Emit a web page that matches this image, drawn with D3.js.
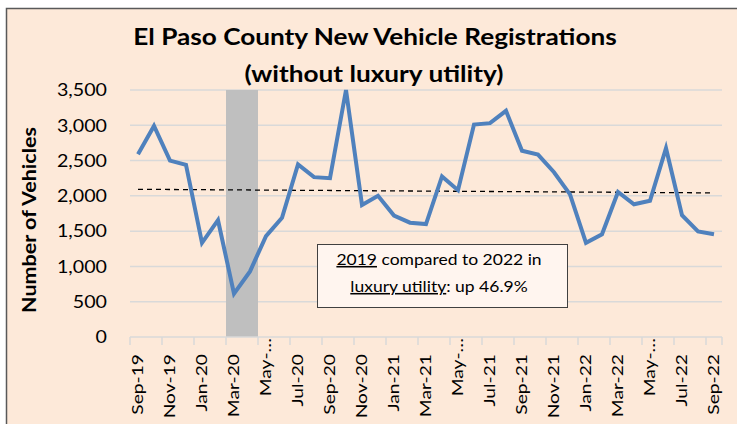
<!DOCTYPE html>
<html>
<head>
<meta charset="utf-8">
<script src="https://cdn.jsdelivr.net/npm/d3@7"></script>
<style>
  html, body { margin: 0; padding: 0; background: #ffffff; }
  svg { display: block; }
  text { font-family: Lato, "Liberation Sans", sans-serif; fill: #000; }
</style>
</head>
<body>
<svg id="chart" width="737" height="424"></svg>
<script>
// ---- data ----
const categories = [
  "Sep-19","Oct-19","Nov-19","Dec-19","Jan-20","Feb-20","Mar-20","Apr-20","May-20","Jun-20",
  "Jul-20","Aug-20","Sep-20","Oct-20","Nov-20","Dec-20","Jan-21","Feb-21","Mar-21","Apr-21",
  "May-21","Jun-21","Jul-21","Aug-21","Sep-21","Oct-21","Nov-21","Dec-21","Jan-22","Feb-22",
  "Mar-22","Apr-22","May-22","Jun-22","Jul-22","Aug-22","Sep-22"
];
const registrations = [
  2590, 2990, 2500, 2440, 1335, 1655, 615, 930, 1430, 1690,
  2445, 2265, 2250, 3500, 1870, 2000, 1720, 1620, 1600, 2275,
  2080, 3010, 3030, 3205, 2640, 2585, 2335, 2020, 1335, 1455,
  2055, 1880, 1930, 2675, 1725, 1495, 1455
];
const trendCategories = ["Sep-19", "Sep-22"];
const trendValues = [2093, 2042];
const shadeCategories = ["Mar-20", "Apr-20"];
const shadeTop = 3500;
const yTicks = [0, 500, 1000, 1500, 2000, 2500, 3000, 3500];
const xTickLabels = {
  "Sep-19":"Sep-19","Nov-19":"Nov-19","Jan-20":"Jan-20","Mar-20":"Mar-20","May-20":"May-…",
  "Jul-20":"Jul-20","Sep-20":"Sep-20","Nov-20":"Nov-20","Jan-21":"Jan-21","Mar-21":"Mar-21",
  "May-21":"May-…","Jul-21":"Jul-21","Sep-21":"Sep-21","Nov-21":"Nov-21","Jan-22":"Jan-22",
  "Mar-22":"Mar-22","May-22":"May-…","Jul-22":"Jul-22","Sep-22":"Sep-22"
};
const titleLines = ["El Paso County New Vehicle Registrations", "(without luxury utility)"];
const yAxisTitle = "Number of Vehicles";
const noteLine1 = [{t:"2019", u:true}, {t:" compared to 2022 in", u:false}];
const noteLine2 = [{t:"luxury utility", u:true}, {t:": up 46.9%", u:false}];

// ---- layout ----
const svg = d3.select("#chart");
const W = 737, H = 424;
const plot = {left: 130, right: 722, top: 90, bottom: 337};

// horizontally widen text (reference glyphs are wider than the local font)
function widen(sel, f) {
  sel.each(function() {
    const L = this.getComputedTextLength();
    d3.select(this).attr("textLength", L * f).attr("lengthAdjust", "spacingAndGlyphs");
  });
}

// chart area background + border
svg.append("rect").attr("x", 6.5).attr("y", 8.5).attr("width", W + 10).attr("height", H + 10)
  .attr("fill", "#fde9d9").attr("stroke", "#595959").attr("stroke-width", 1.5);

const x = d3.scaleBand().domain(categories).range([plot.left, plot.right]).padding(0);
const y = d3.scaleLinear().domain([0, 3500]).range([plot.bottom, plot.top]);
const cx = d => x(d) + x.bandwidth() / 2;

// gridlines
svg.append("g").selectAll("line").data(yTicks.filter(v => v > 0)).join("line")
  .attr("x1", plot.left).attr("x2", plot.right)
  .attr("y1", d => y(d)).attr("y2", d => y(d))
  .attr("stroke", "#d9d9d9").attr("stroke-width", 1.5);

// shaded period
svg.append("rect")
  .attr("x", x(shadeCategories[0]))
  .attr("y", y(shadeTop))
  .attr("width", x(shadeCategories[1]) + x.bandwidth() - x(shadeCategories[0]))
  .attr("height", y(0) - y(shadeTop))
  .attr("fill", "#bfbfbf");

// y axis
const yAxis = d3.axisLeft(y).tickValues(yTicks).tickFormat(d3.format(",")).tickSize(0).tickPadding(0);
const gy = svg.append("g").attr("transform", `translate(107,0)`).call(yAxis);
gy.select(".domain").remove();
gy.selectAll("text").attr("font-size", 16.5).attr("fill", "#000")
  .style("font-family", "Lato, sans-serif").attr("dy", "0.35em").attr("x", 0);
widen(gy.selectAll("text"), 1.19);

// x axis
const tickCats = categories.filter((c, i) => i % 2 === 0);
const xAxis = d3.axisBottom(x).tickValues(tickCats).tickSize(0).tickFormat(d => xTickLabels[d]);
const gx = svg.append("g").attr("transform", `translate(0,${plot.bottom})`).call(xAxis);
gx.select(".domain").attr("stroke", "#d9d9d9").attr("stroke-width", 1.5)
  .attr("d", `M${plot.left},0H${plot.right}`);
gx.selectAll("text")
  .attr("font-size", 15.5).attr("fill", "#000")
  .style("font-family", "Lato, sans-serif")
  .attr("transform", `rotate(-90)`)
  .attr("text-anchor", "end")
  .attr("x", d => xTickLabels[d].startsWith("May") ? -1 : -17)
  .attr("y", 0).attr("dy", "0.35em");
widen(gx.selectAll("text"), 1.24);
// tick marks at band boundaries, every 2 categories
svg.append("g").selectAll("line").data(tickCats).join("line")
  .attr("x1", d => x(d)).attr("x2", d => x(d))
  .attr("y1", plot.bottom).attr("y2", plot.bottom + 8)
  .attr("stroke", "#d9d9d9").attr("stroke-width", 1.5);
svg.append("line")
  .attr("x1", plot.right).attr("x2", plot.right)
  .attr("y1", plot.bottom).attr("y2", plot.bottom + 8)
  .attr("stroke", "#d9d9d9").attr("stroke-width", 1.5);

// trend (dashed)
svg.append("path")
  .datum(trendCategories.map((c, i) => [c, trendValues[i]]))
  .attr("d", d3.line().x(d => cx(d[0])).y(d => y(d[1])))
  .attr("fill", "none").attr("stroke", "#000").attr("stroke-width", 1.3)
  .attr("stroke-dasharray", "5,4");

// main line
svg.append("path")
  .datum(categories.map((c, i) => [c, registrations[i]]))
  .attr("d", d3.line().x(d => cx(d[0])).y(d => y(d[1])))
  .attr("fill", "none").attr("stroke", "#4f81bd").attr("stroke-width", 4)
  .attr("stroke-linejoin", "miter");

// title
const t1 = svg.append("text").attr("x", 375).attr("y", 45).attr("text-anchor", "middle")
  .attr("font-size", 22).attr("font-weight", "bold").text(titleLines[0]);
const t2 = svg.append("text").attr("x", 374).attr("y", 82).attr("text-anchor", "middle")
  .attr("font-size", 22).attr("font-weight", "bold").text(titleLines[1]);
widen(t1, 1.19);
widen(t2, 1.19);

// y axis title
const yt = svg.append("text").attr("transform", "translate(36,220) rotate(-90)")
  .attr("text-anchor", "middle").attr("font-size", 18).attr("font-weight", "bold")
  .text(yAxisTitle);
yt.attr("textLength", 186).attr("lengthAdjust", "spacingAndGlyphs");

// annotation box
svg.append("rect").attr("x", 317.5).attr("y", 244.5).attr("width", 250).attr("height", 63)
  .attr("fill", "#fff5ef").attr("stroke", "#404040").attr("stroke-width", 1);
function note(parts, yy) {
  const g = svg.append("g").attr("transform", `translate(439,${yy}) scale(1.13,1)`);
  const t = g.append("text").attr("x", 0).attr("y", 0).attr("text-anchor", "middle")
    .attr("font-size", 15.5);
  parts.forEach(p => {
    t.append("tspan").text(p.t).style("text-decoration", p.u ? "underline" : null);
  });
}
note(noteLine1, 265);
note(noteLine2, 292);
</script>
</body>
</html>
